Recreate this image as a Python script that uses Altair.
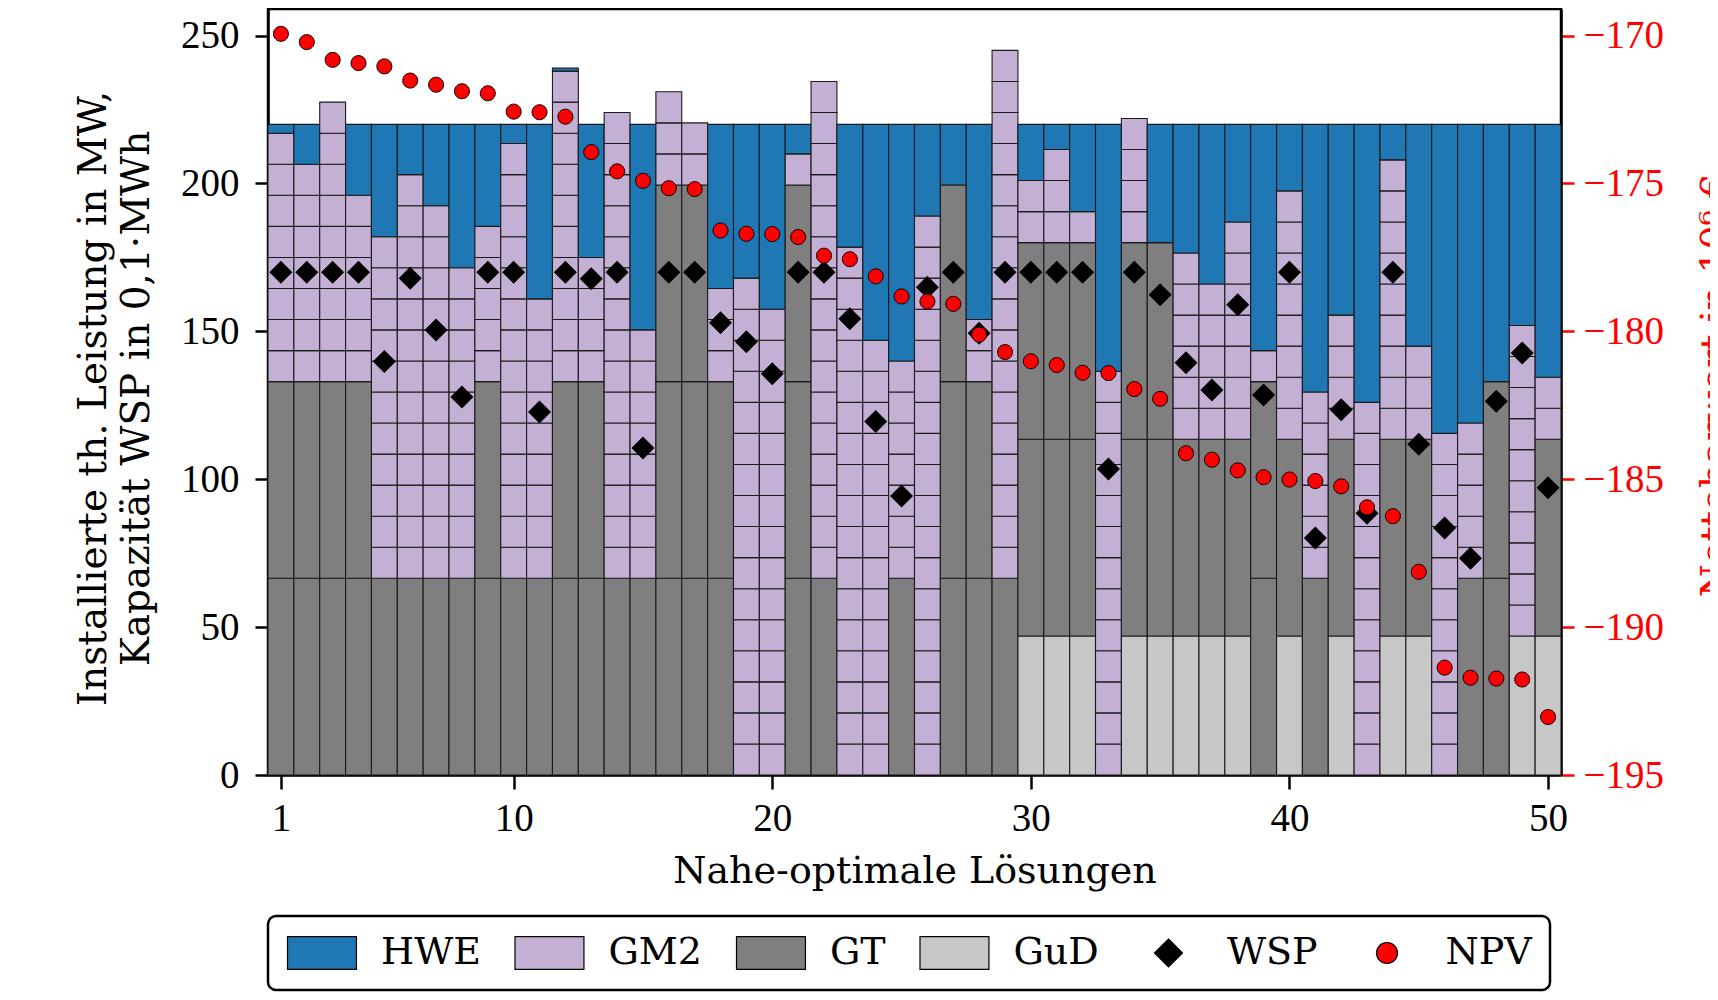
import altair as alt
import pandas as pd

# ---------------- data ----------------
solutions = list(range(1, 51))

# number of installed units per technology and solution
gud_units = [0] * 29 + [1, 1, 1, 0, 1, 1, 1, 1, 1, 0, 1, 0, 1, 0, 1, 1, 0, 0, 0, 1, 1]
gt_units = [2, 2, 2, 2, 1, 1, 1, 1, 2, 1,
            1, 2, 2, 1, 1, 3, 3, 2, 0, 0,
            3, 1, 0, 0, 1, 0, 3, 2, 1, 2,
            2, 2, 0, 2, 2, 1, 1, 1, 2, 1,
            1, 1, 0, 1, 1, 0, 1, 2, 0, 1]
gm2_units = [8, 7, 9, 6, 11, 13, 12, 10, 5, 14,
             9, 10, 4, 15, 8, 3, 2, 3, 16, 15,
             1, 16, 17, 14, 7, 18, 0, 2, 17, 2,
             3, 1, 13, 4, 0, 6, 5, 7, 1, 8,
             6, 4, 12, 9, 3, 11, 5, 0, 10, 2]
# unit sizes in MW
GUD_UNIT = 47.0
GT_UNIT = 66.5
GM2_UNIT = 10.5
# HWE in MW
hwe_mw = [3, 13.5, 0, 24, 38, 17, 27.5, 48.5, 34.5, 6.5,
          59, 1, 45, 0, 69.5, 0, 0, 55.5, 52, 62.5,
          10, 0, 41.5, 73, 80, 31, 20.5, 66, 0, 19,
          8.5, 29.5, 83.5, 0, 40, 43.5, 54, 33, 76.5, 22.5,
          90.5, 64.5, 94, 12, 75, 104.5, 101, 87, 68, 85.5]
# storage capacity (0.1 MWh)
wsp = [170, 170, 170, 170, 139.8, 168, 150.5, 127.8, 170, 170,
       122.7, 170, 167.8, 170, 110.6, 170, 170, 152.9, 146.5, 135.7,
       170, 170, 154.3, 119.5, 94.3, 164.9, 170, 149.4, 170, 170,
       170, 170, 103.5, 170, 162.4, 139.4, 130.2, 159, 128.5, 170,
       80.1, 123.5, 88.5, 170, 111.8, 83.5, 73.3, 126.4, 142.7, 97.1]
# net present value (10^6 EUR)
npv = [-169.94, -170.22, -170.82, -170.93, -171.04, -171.52, -171.66, -171.88, -171.95, -172.57,
       -172.59, -172.74, -173.94, -174.59, -174.91, -175.16, -175.19, -176.59, -176.70, -176.71,
       -176.81, -177.44, -177.56, -178.14, -178.82, -178.99, -179.07, -180.11, -180.70, -181.01,
       -181.14, -181.40, -181.41, -181.95, -182.28, -184.12, -184.34, -184.70, -184.93, -185.01,
       -185.06, -185.24, -185.95, -186.25, -188.13, -191.37, -191.71, -191.74, -191.77, -193.04]

categories = ["HWE", "GM2", "GT", "GuD", "WSP", "NPV"]
colors = ["#1f77b4", "#c5b0d5", "#7f7f7f", "#c7c7c7", "#000000", "#ff0000"]

# ---------------- tables ----------------
rows = []
for i, s in enumerate(solutions):
    base = 0.0
    for typ, n, unit in (("GuD", gud_units[i], GUD_UNIT),
                         ("GT", gt_units[i], GT_UNIT),
                         ("GM2", gm2_units[i], GM2_UNIT)):
        for _ in range(n):
            rows.append({"sol": s, "x0": s - 0.5, "x1": s + 0.5, "typ": typ,
                         "y0": base, "y1": base + unit})
            base += unit
    if hwe_mw[i] > 0:
        rows.append({"sol": s, "x0": s - 0.5, "x1": s + 0.5, "typ": "HWE",
                     "y0": base, "y1": base + hwe_mw[i]})
blocks = pd.DataFrame(rows)
wsp_df = pd.DataFrame({"sol": solutions, "wsp": wsp, "typ": "WSP"})
npv_df = pd.DataFrame({"sol": solutions, "npv": npv, "typ": "NPV"})

# ---------------- scales / axes / legend ----------------
W, H = 1293, 766
SERIF_NUM = "Liberation Serif"
SERIF_TXT = "DejaVu Serif"

xscale = alt.Scale(domain=[0.5, 50.5], nice=False, zero=False)
yscale = alt.Scale(domain=[0, 259], nice=False, zero=False)
y2scale = alt.Scale(domain=[-195, -169.1], nice=False, zero=False)

# legend / marker shapes (paths in the -1..1 box, shifted so that legend handles line up)
rect_path = "M-1,-0.94H2.94V0.94H-1Z"
diamond_path = "M-1,0M1,-0.8L1.8,0L1,0.8L0.2,0Z"
circle_path = "M-1,0M0.4,0A0.6,0.6,0,1,0,1.6,0A0.6,0.6,0,1,0,0.4,0Z"
shapes = [rect_path, rect_path, rect_path, rect_path, diamond_path, circle_path]

cscale = alt.Scale(domain=categories, range=colors)
sscale = alt.Scale(domain=categories, range=shapes)

leg = alt.Legend(
    title=None, orient="none", legendX=0, legendY=907, direction="horizontal",
    columns=6, symbolSize=1225, symbolStrokeColor="black", symbolStrokeWidth=1.2,
    labelFont=SERIF_TXT, labelFontSize=38, labelColor="black", labelOffset=57,
    columnPadding=31.5, padding=18, strokeColor="black", cornerRadius=8,
    labelLimit=400,
)

common_axis = dict(
    labelFont=SERIF_NUM, labelFontSize=39, labelColor="black",
    tickWidth=2.5, domainWidth=2.5, domainColor="black", grid=False,
    titleFont=SERIF_TXT, titleFontWeight="normal",
    labelFlush=False, labelOverlap=False, labelBound=False,
)

xaxis = alt.Axis(
    values=[1, 10, 20, 30, 40, 50], format="d",
    title="Nahe-optimale Lösungen", titleColor="black", titleFontSize=38,
    titleBaseline="alphabetic", titleAlign="center", titleX=W / 2, titleY=107,
    tickSize=14, tickColor="black", labelPadding=10, **common_axis,
)
yaxis = alt.Axis(
    values=[0, 50, 100, 150, 200, 250], format="d",
    title=["Installierte th. Leistung in MW,", "Kapazität WSP in 0,1·MWh"],
    titleColor="black", titleFontSize=39, titleAngle=270, titleAlign="center",
    titleBaseline="alphabetic", titleX=-163, titleY=389, titleLineHeight=43,
    tickSize=13, tickColor="black", labelPadding=16, **common_axis,
)
y2axis = alt.Axis(
    orient="right", values=[-195, -190, -185, -180, -175, -170], format="d",
    title="Nettobarwert in 10⁶ €", titleColor="#ff0000", titleFontSize=38,
    titleAngle=270, titleAlign="center", titleBaseline="alphabetic",
    titleX=165, titleY=376,
    tickSize=13, tickColor="#ff0000", labelPadding=9,
    **{**common_axis, "labelColor": "#ff0000"},
)

# ---------------- layers ----------------
bars = alt.Chart(blocks).mark_rect(stroke="#1a1a1a", strokeWidth=1.1).encode(
    x=alt.X("x0:Q", scale=xscale, axis=xaxis),
    x2="x1:Q",
    y=alt.Y("y0:Q", scale=yscale, axis=yaxis),
    y2="y1:Q",
    color=alt.Color("typ:N", scale=cscale, legend=leg),
)

wsp_pts = alt.Chart(wsp_df).mark_point(
    filled=True, opacity=1, size=827, xOffset=-14.4, strokeWidth=0
).encode(
    x=alt.X("sol:Q", scale=xscale, axis=xaxis),
    y=alt.Y("wsp:Q", scale=yscale, axis=yaxis),
    color=alt.Color("typ:N", scale=cscale, legend=leg),
    shape=alt.Shape("typ:N", scale=sscale, legend=leg),
)

npv_pts = alt.Chart(npv_df).mark_point(
    filled=True, opacity=1, size=625, xOffset=-12.5, stroke="#000000", strokeWidth=1
).encode(
    x=alt.X("sol:Q", scale=xscale, axis=xaxis),
    y=alt.Y("npv:Q", scale=y2scale, axis=y2axis),
    color=alt.Color("typ:N", scale=cscale, legend=leg),
    shape=alt.Shape("typ:N", scale=sscale, legend=leg),
)

left = alt.layer(bars, wsp_pts)
chart = alt.layer(left, npv_pts).resolve_scale(y="independent").properties(
    width=W, height=H,
    autosize=alt.AutoSizeParams(type="none"),
    padding={"left": 260, "top": 1, "right": 149, "bottom": 217},
).configure_view(
    stroke="black", strokeWidth=2.5
).configure_legend(
    strokeWidth=2.5
)

chart.save("out.html", embed_options={"renderer": "svg", "actions": False})
